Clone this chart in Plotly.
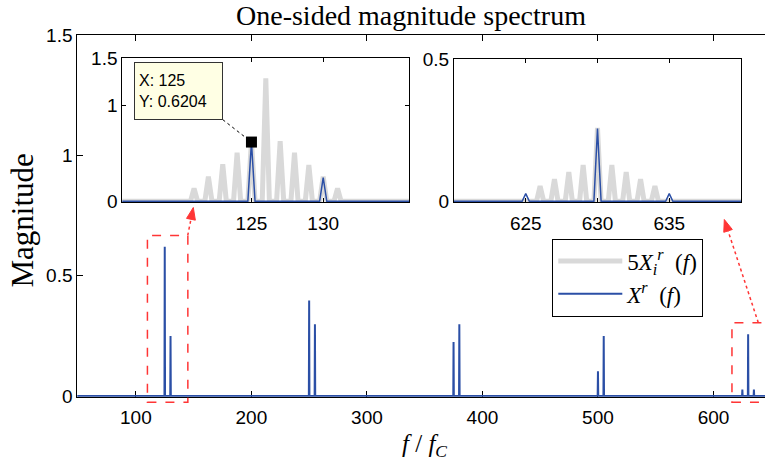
import math
import plotly.graph_objects as go

# ---------------- data ----------------
# received spectrum X^r(f): peak frequencies (f/fC) and magnitudes
peak_freqs = [125, 130, 250, 255, 375, 380, 500, 505, 625, 630, 635]
peak_mags = [0.6204, 0.249, 0.397, 0.298, 0.224, 0.298, 0.103, 0.249, 0.027, 0.256, 0.027]

# scaled interference spectrum 5 X_i^r(f)
ideal_freqs = [121, 122, 123, 124, 125, 126, 127, 128, 129, 130, 131,
               626, 627, 628, 629, 630, 631, 632, 633, 634]
ideal_mags = [0.135, 0.26, 0.387, 0.509, 0.63, 1.288, 0.63, 0.509, 0.38, 0.26, 0.135,
              0.054, 0.078, 0.103, 0.128, 0.258, 0.128, 0.103, 0.078, 0.054]

main_xticks = [100, 200, 300, 400, 500, 600]
main_yticks = [0, 0.5, 1, 1.5]
main_yticklabels = ["0", "0.5", "1", "1.5"]
inset1_xticks = [125, 130]
inset1_yticks = [0, 1, 1.5]
inset1_yticklabels = ["0", "1", "1.5"]
inset2_xticks = [625, 630, 635]
inset2_yticks = [0, 0.5]
inset2_yticklabels = ["0", "0.5"]

cursor_x, cursor_y = peak_freqs[0], peak_mags[0]

title_text = "One-sided magnitude spectrum"
ylabel_text = "Magnitude"
xlabel_text = "<i>f</i> / <i>f</i><sub><i>C</i></sub>"
legend_ideal = "5<i>X</i><sub><i>i</i></sub><sup><i>r</i></sup>\u00a0\u00a0(<i>f</i>)"
legend_recv = "<i>X</i><sup><i>r</i></sup>\u00a0\u00a0(<i>f</i>)"

# ---------------- helpers ----------------
W, H = 765, 462


def px(x):
    return x / W


def py(y):
    return 1 - y / H


def spectrum_line(freqs, mags, lo, hi, hw=0.25):
    xs, ys = [lo], [0]
    for f, m in sorted(zip(freqs, mags)):
        xs += [f - hw, f, f + hw]
        ys += [0, m, 0]
    xs.append(hi)
    ys.append(0)
    return xs, ys


SANS = "Liberation Sans, Arial, sans-serif"
SERIF = "Liberation Serif, Times New Roman, serif"
BLUE = "#2B4FA6"
GRAY = "#D9D9D9"
RED = "#FF3535"

bx, by = spectrum_line(peak_freqs, peak_mags, 0, 700)
gx, gy = spectrum_line(ideal_freqs, ideal_mags, 0, 700)

fig = go.Figure()

# inset 1 (ideal first so it is first in legend)
fig.add_trace(go.Scatter(x=gx, y=gy, xaxis="x2", yaxis="y2", mode="lines",
                         line=dict(color=GRAY, width=5), name=legend_ideal,
                         legendgroup="a", showlegend=True, hoverinfo="skip"))
fig.add_trace(go.Scatter(x=bx, y=by, xaxis="x2", yaxis="y2", mode="lines",
                         line=dict(color=BLUE, width=1.5), showlegend=False,
                         hoverinfo="skip"))
fig.add_trace(go.Scatter(x=[cursor_x], y=[cursor_y], xaxis="x2", yaxis="y2",
                         mode="markers", marker=dict(symbol="square", size=11, color="black"),
                         cliponaxis=False, showlegend=False, hoverinfo="skip"))
# inset 2
fig.add_trace(go.Scatter(x=gx, y=gy, xaxis="x3", yaxis="y3", mode="lines",
                         line=dict(color=GRAY, width=5), showlegend=False, hoverinfo="skip"))
fig.add_trace(go.Scatter(x=bx, y=by, xaxis="x3", yaxis="y3", mode="lines",
                         line=dict(color=BLUE, width=1.5), showlegend=False,
                         hoverinfo="skip"))
# main
fig.add_trace(go.Scatter(x=bx, y=by, xaxis="x", yaxis="y", mode="lines",
                         line=dict(color=BLUE, width=2), name=legend_recv,
                         legendgroup="b", showlegend=True, hoverinfo="skip"))

axis_common = dict(showline=True, linecolor="black", linewidth=1, showgrid=False,
                   zeroline=False, ticks="inside", tickcolor="black", automargin=False,
                   tickfont=dict(family=SANS, size=19, color="black"))

fig.update_layout(
    width=W, height=H,
    margin=dict(l=0, r=0, t=0, b=0, pad=0, autoexpand=False),
    paper_bgcolor="white", plot_bgcolor="white",
    showlegend=True,
    xaxis=dict(domain=[px(77.3), 1], range=[49.3, 644.6], tickvals=main_xticks,
               ticklen=6, mirror="ticks", layer="below traces", ticklabelstandoff=3,
               **axis_common),
    yaxis=dict(domain=[py(396.7), py(35)], range=[-0.003, 1.5], tickvals=main_yticks,
               ticktext=main_yticklabels, ticklen=6, mirror=False, **axis_common),
    xaxis2=dict(domain=[px(122.3), px(409.3)], range=[116, 136], tickvals=inset1_xticks,
                anchor="y2", ticklen=4, mirror="ticks", ticklabelstandoff=4, **axis_common),
    yaxis2=dict(domain=[py(202.3), py(58)], range=[-0.01, 1.5], tickvals=inset1_yticks,
                ticktext=inset1_yticklabels, anchor="x2", ticklen=4, mirror="ticks",
                **axis_common),
    xaxis3=dict(domain=[px(454), px(741)], range=[620, 640], tickvals=inset2_xticks,
                anchor="y3", ticklen=4, mirror="ticks", ticklabelstandoff=4, **axis_common),
    yaxis3=dict(domain=[py(202.3), py(59)], range=[-0.0033, 0.5], tickvals=inset2_yticks,
                ticktext=inset2_yticklabels, anchor="x3", ticklen=4, mirror="ticks",
                **axis_common),
    legend=dict(x=px(552.3), y=py(238.5), xanchor="left", yanchor="top",
                bordercolor="black", borderwidth=1, bgcolor="white",
                font=dict(family=SERIF, size=23, color="black"),
                itemwidth=64, traceorder="grouped", tracegroupgap=0),
)

# texts
fig.add_annotation(text=title_text, xref="paper", yref="paper", x=px(411), y=1,
                   xanchor="center", yanchor="top", showarrow=False, borderpad=0, yshift=1,
                   font=dict(family=SERIF, size=28, color="black"))
fig.add_annotation(text=ylabel_text, xref="paper", yref="paper", x=px(22.5), y=py(221),
                   xanchor="center", yanchor="middle", showarrow=False, textangle=-90,
                   font=dict(family=SERIF, size=31, color="black"))
fig.add_annotation(text=xlabel_text, xref="paper", yref="paper", x=px(424.5), y=0,
                   xanchor="center", yanchor="bottom", showarrow=False, borderpad=0,
                   font=dict(family=SERIF, size=25, color="black"))

# data cursor box
fig.add_annotation(text=f"X: {cursor_x}<br>Y: {cursor_y:.4f}", xref="x2", yref="y2",
                   x=123.0, y=0.855, xanchor="right", yanchor="bottom", showarrow=False,
                   align="left", bgcolor="#FFFFE4", bordercolor="#333333", borderwidth=1,
                   borderpad=4, width=79, height=48,
                   font=dict(family=SANS, size=16, color="black"))
fig.add_shape(type="line", xref="x2", yref="y2", x0=123.0, y0=0.855, x1=cursor_x, y1=cursor_y,
              line=dict(color="black", width=1, dash="dot"))

# zoom indicator boxes
fig.add_shape(type="rect", xref="x", yref="paper", x0=110, x1=145, y0=py(402.3), y1=py(235.5),
              line=dict(color=RED, width=1.5, dash="dash"))
fig.add_shape(type="rect", xref="x", yref="paper", x0=616, x1=680, y0=py(402.3), y1=py(322.7),
              line=dict(color=RED, width=1.5, dash="dash"))

# dotted arrows with filled heads (pixel geometry converted to paper coords)
for (x0, y0, x1, y1) in [(187.7, 235.5, 193.3, 207.5), (758.3, 322.7, 724.3, 219.5)]:
    dx, dy = x1 - x0, y1 - y0
    L = math.hypot(dx, dy)
    ux, uy = dx / L, dy / L
    nx, ny = -uy, ux
    hl, hw = 12.0, 4.5
    bxp, byp = x1 - hl * ux, y1 - hl * uy
    fig.add_shape(type="line", xref="paper", yref="paper", x0=px(x0), y0=py(y0),
                  x1=px(bxp), y1=py(byp), line=dict(color=RED, width=1.5, dash="dot"))
    pts = [(x1, y1), (bxp + hw * nx, byp + hw * ny), (bxp - hw * nx, byp - hw * ny)]
    path = "M " + " L ".join(f"{px(a):.5f},{py(b):.5f}" for a, b in pts) + " Z"
    fig.add_shape(type="path", xref="paper", yref="paper", path=path,
                  fillcolor=RED, line=dict(color=RED, width=1))

fig.write_html("out.html")
